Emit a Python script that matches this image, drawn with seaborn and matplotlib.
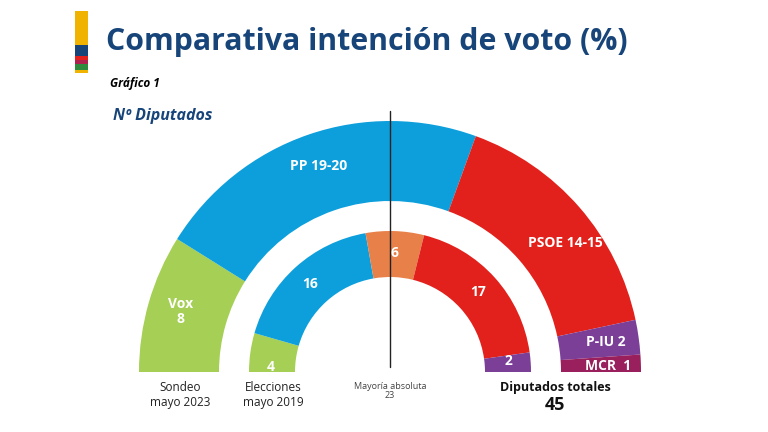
import numpy as np
import matplotlib
matplotlib.use("Agg")
import matplotlib.pyplot as plt
from matplotlib.patches import Wedge, Rectangle
import seaborn as sns

# seats - outer ring: poll May 2023, inner ring: elections May 2019
outer_parties = ["Vox", "PP", "PSOE", "P-IU", "MCR"]
outer_seats = [8, 19.5, 14.5, 2, 1]
outer_labels = ["Vox\n8", "PP 19-20", "PSOE 14-15", "P-IU 2", "MCR  1"]
outer_colors = ["#a5cf55", "#0d9fdc", "#e2211c", "#7b3f98", "#9a1f5d"]

inner_parties = ["Vox", "PP", "Cs", "PSOE", "IU"]
inner_seats = [4, 16, 6, 17, 2]
inner_labels = ["4", "16", "6", "17", "2"]
inner_colors = ["#a5cf55", "#0d9fdc", "#e8804a", "#e2211c", "#7b3f98"]

total_seats = 45
majority = 23

# where the label sits inside its slice (0 = left edge, 1 = right edge)
outer_label_at = [0.5, 0.5, 0.58, 0.5, 0.6]
inner_label_at = [0.15, 0.5, 0.5, 0.5, 0.35]

navy = "#17457a"

sns.set_theme(style="white")
plt.rcParams["font.family"] = ["Open Sans", "DejaVu Sans"]

fig = plt.figure(figsize=(7.68, 4.32), dpi=100)
ax = fig.add_axes([0, 0, 1, 1])
ax.set_xlim(0, 768)
ax.set_ylim(432, 0)
ax.set_aspect("equal")
ax.axis("off")

cx, cy = 390, 372


def ring(seats, labels, colors, label_at, r_in, r_out, r_lab):
    # angles go clockwise from 180 (left) to 0 (right), y axis is flipped
    edges = 180 - np.concatenate([[0], np.cumsum(seats)]) / total_seats * 180
    for i in range(len(seats)):
        a0, a1 = edges[i + 1], edges[i]
        ax.add_patch(Wedge((cx, cy), r_out, -a1, -a0, width=r_out - r_in,
                           facecolor=colors[i], edgecolor="none"))
        mid = np.deg2rad(a1 + (a0 - a1) * label_at[i])
        ax.text(cx + r_lab * np.cos(mid), cy - r_lab * np.sin(mid), labels[i],
                color="white", fontsize=10, fontweight="bold",
                ha="center", va="center", linespacing=1.1)


ring(outer_seats, outer_labels, outer_colors, outer_label_at, 171, 251, 218)
ring(inner_seats, inner_labels, inner_colors, inner_label_at, 95, 141, 119)

# majority line
ax.plot([cx, cx], [111, 367], color="#222222", lw=1)

# header colour bar
bar = [("#f0b400", 11, 45), ("#17457a", 45, 56), ("#e2211c", 56, 60),
       ("#b0204f", 60, 64), ("#2e8b3e", 64, 70), ("#f0b400", 70, 73)]
for c, y0, y1 in bar:
    ax.add_patch(Rectangle((75, y0), 13, y1 - y0, facecolor=c, edgecolor="none"))

ax.text(106, 42, "Comparativa intención de voto (%)", color=navy,
        fontsize=21.8, fontweight="bold", ha="left", va="center")
ax.text(110, 84, "Gráfico 1", color="black", fontsize=8.5,
        fontweight="bold", fontstyle="italic", ha="left", va="center")
ax.text(113, 116, "Nº Diputados", color=navy, fontsize=11.5,
        fontweight="bold", fontstyle="italic", ha="left", va="center")

# bottom captions
ax.text(180, 395, "Sondeo\nmayo 2023", color="#222222", fontsize=8.5,
        ha="center", va="center", linespacing=1.15)
ax.text(273, 395, "Elecciones\nmayo 2019", color="#222222", fontsize=8.5,
        ha="center", va="center", linespacing=1.15)
ax.text(cx, 391, f"Mayoría absoluta\n{majority}", color="#444444", fontsize=6.5,
        ha="center", va="center", linespacing=1.1)
ax.text(555, 388, "Diputados totales", color="#111111", fontsize=9,
        fontweight="bold", ha="center", va="center")
ax.text(555, 405, f"{total_seats}", color="#111111", fontsize=13,
        fontweight="bold", ha="center", va="center")

fig.savefig("out.png", dpi=100, facecolor="white")
